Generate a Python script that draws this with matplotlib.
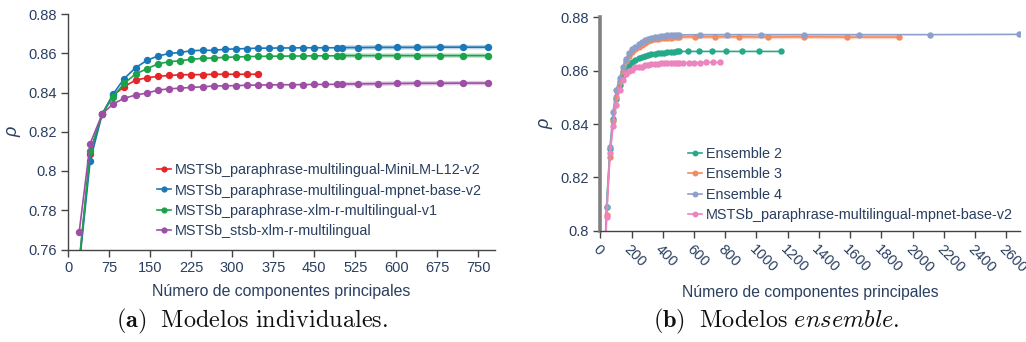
import matplotlib
matplotlib.use("Agg")
import matplotlib.pyplot as plt
import numpy as np

plt.rcParams['font.family'] = ['Liberation Sans', 'DejaVu Sans']
plt.rcParams['mathtext.fontset'] = 'cm'

TEXT = '#2a3f5f'

# componentes principales (modelos individuales, 768 dims)
x_ind = [20, 40, 62, 82, 102, 123, 144, 164, 185, 205, 225, 246, 266, 286, 307, 327,
         348, 368, 388, 409, 429, 450, 470, 491, 501, 530, 566, 602, 639, 680, 722, 768]
x_minilm = x_ind[:17]

rho_minilm = [0.753, 0.8089, 0.8290, 0.8385, 0.8429, 0.8463, 0.8475, 0.8482, 0.8487,
              0.8490, 0.8491, 0.8491, 0.8493, 0.8493, 0.8493, 0.8493, 0.8493]
rho_mpnet = [0.752, 0.8052, 0.8290, 0.8392, 0.8470, 0.8526, 0.8564, 0.8586, 0.8599, 0.8604,
             0.8613, 0.8615, 0.8615, 0.8620, 0.8622, 0.8624, 0.8626, 0.8626, 0.8627, 0.8627,
             0.8628, 0.8628, 0.8628, 0.8628, 0.8629, 0.8629, 0.8630, 0.8630, 0.8630, 0.8631,
             0.8631, 0.8631]
rho_xlmr = [0.754, 0.8101, 0.8292, 0.8378, 0.8446, 0.8494, 0.8521, 0.8546, 0.8557, 0.8562,
            0.8569, 0.8574, 0.8576, 0.8579, 0.8581, 0.8583, 0.8584, 0.8585, 0.8585, 0.8586,
            0.8586, 0.8587, 0.8587, 0.8587, 0.8588, 0.8588, 0.8588, 0.8588, 0.8588, 0.8588,
            0.8588, 0.8588]
rho_stsb = [0.7691, 0.8140, 0.8290, 0.8342, 0.8370, 0.8387, 0.8397, 0.8412, 0.8419, 0.8422,
            0.8426, 0.8429, 0.8433, 0.8434, 0.8435, 0.8437, 0.8438, 0.8439, 0.8439, 0.8440,
            0.8440, 0.8441, 0.8441, 0.8442, 0.8443, 0.8444, 0.8445, 0.8446, 0.8447, 0.8447,
            0.8448, 0.8448]

# ensembles
x_ens2 = x_ind[:25] + [564, 634, 718, 805, 907, 1018, 1157]
x_ens3 = x_ind[:25] + [607, 735, 888, 1076, 1305, 1582, 1915]
x_ens4 = x_ind[:25] + [638, 809, 1027, 1305, 1659, 2111, 2683]

rho_ens2 = [0.775, 0.809, 0.8305, 0.8420, 0.8495, 0.8548, 0.8585, 0.8606, 0.8621, 0.8632,
            0.8640, 0.8647, 0.8652, 0.8656, 0.8659, 0.8662, 0.8664, 0.8666, 0.8667, 0.8668,
            0.8669, 0.8670, 0.8671, 0.8672, 0.8672,
            0.8672, 0.8672, 0.8672, 0.8672, 0.8672, 0.8672, 0.8672]
rho_ens3 = [0.770, 0.806, 0.8277, 0.8410, 0.8500, 0.8560, 0.8600, 0.8635, 0.8655, 0.8670,
            0.8680, 0.8690, 0.8698, 0.8705, 0.8710, 0.8714, 0.8717, 0.8719, 0.8721, 0.8722,
            0.8723, 0.8724, 0.8725, 0.8725, 0.8726,
            0.8727, 0.8727, 0.8727, 0.8726, 0.8727, 0.8726, 0.8726]
rho_ens4 = [0.775, 0.809, 0.8312, 0.8446, 0.8527, 0.8571, 0.8615, 0.8645, 0.8665, 0.8680,
            0.8690, 0.8700, 0.8708, 0.8714, 0.8719, 0.8723, 0.8726, 0.8728, 0.8730, 0.8731,
            0.8732, 0.8733, 0.8734, 0.8734, 0.8734,
            0.8735, 0.8735, 0.8735, 0.8735, 0.8735, 0.8735, 0.8736]

left_series = [
    ("MSTSb_paraphrase-multilingual-MiniLM-L12-v2", x_minilm, rho_minilm, '#e52629'),
    ("MSTSb_paraphrase-multilingual-mpnet-base-v2", x_ind, rho_mpnet, '#1b78b6'),
    ("MSTSb_paraphrase-xlm-r-multilingual-v1", x_ind, rho_xlmr, '#1aa34a'),
    ("MSTSb_stsb-xlm-r-multilingual", x_ind, rho_stsb, '#9c4fa4'),
]
right_series = [
    ("Ensemble 2", x_ens2, rho_ens2, '#25a98b'),
    ("Ensemble 3", x_ens3, rho_ens3, '#f28a5f'),
    ("Ensemble 4", x_ens4, rho_ens4, '#8da0cb'),
    ("MSTSb_paraphrase-multilingual-mpnet-base-v2", x_ind, rho_mpnet, '#ec84bd'),
]

W, H = 1026, 342
fig = plt.figure(figsize=(W / 100, H / 100), dpi=100)


def px_box(x0, x1, ytop, ybot):
    return [x0 / W, 1 - ybot / H, (x1 - x0) / W, (ybot - ytop) / H]


def style_axis(ax):
    for s in ['top', 'right']:
        ax.spines[s].set_visible(False)
    for s in ['left', 'bottom']:
        ax.spines[s].set_color('#444444')
        ax.spines[s].set_linewidth(1.0)
    ax.tick_params(colors='#444444', labelcolor=TEXT, labelsize=10.5, length=5, width=1)
    ax.set_facecolor('white')


# (a) modelos individuales
ax1 = fig.add_axes(px_box(68.3, 494.5, 14, 249.5))
style_axis(ax1)
for name, xs, ys, c in left_series:
    if len(xs) > 24:
        ax1.plot(xs[23:], ys[23:], color=c, lw=3.2, alpha=0.3, solid_capstyle='round')
    ax1.plot(xs, ys, color=c, lw=1.2, marker='o', ms=4.3, label=name)
ax1.set_xlim(0, 780)
ax1.set_ylim(0.76, 0.88)
ax1.set_xticks(np.arange(0, 751, 75))
yt = [0.76, 0.78, 0.80, 0.82, 0.84, 0.86, 0.88]
ax1.set_yticks(yt)
ax1.set_yticklabels(['0.76', '0.78', '0.8', '0.82', '0.84', '0.86', '0.88'])
ax1.set_xlabel("Número de componentes principales", color=TEXT, fontsize=11.4, labelpad=6)
ax1.set_ylabel("ρ", color=TEXT, fontsize=13, style='italic', labelpad=5)
ax1.legend(loc='upper left', bbox_to_anchor=(157 / W, 1 - 163 / H),
           bbox_transform=fig.transFigure, frameon=False, fontsize=10.4,
           labelcolor=TEXT, handlelength=1.0, handletextpad=0.25,
           borderpad=0, borderaxespad=0, labelspacing=0.45, markerscale=0.8)

# (b) modelos ensemble
ax2 = fig.add_axes(px_box(600.3, 1020, 17.3, 230.7))
style_axis(ax2)
ax2.spines['left'].set_color('#808080')
ax2.spines['left'].set_linewidth(2.6)
for name, xs, ys, c in right_series:
    if name == "Ensemble 3":
        ax2.plot(xs[24:], ys[24:], color=c, lw=3.2, alpha=0.35, solid_capstyle='round')
    ax2.plot(xs, ys, color=c, lw=1.2, marker='o', ms=3.6, label=name)
ax2.set_xlim(0, 2688)
ax2.set_ylim(0.80, 0.88)
ax2.set_xticks(np.arange(0, 2601, 200))
ax2.set_xticklabels([str(v) for v in range(0, 2601, 200)], rotation=-45,
                    ha='left', va='top', rotation_mode='anchor')
ax2.set_yticks([0.80, 0.82, 0.84, 0.86, 0.88])
ax2.set_yticklabels(['0.8', '0.82', '0.84', '0.86', '0.88'])
ax2.set_xlabel("Número de componentes principales", color=TEXT, fontsize=11.3, labelpad=7)
ax2.set_ylabel("ρ", color=TEXT, fontsize=13, style='italic', labelpad=5)
ax2.legend(loc='upper left', bbox_to_anchor=(688 / W, 1 - 147 / H),
           bbox_transform=fig.transFigure, frameon=False, fontsize=10.4,
           labelcolor=TEXT, handlelength=1.0, handletextpad=0.25,
           borderpad=0, borderaxespad=0, labelspacing=0.45, markerscale=0.9)

# captions
fig.text(252 / W, 1 - 321 / H, r'$\mathbf{(a)}\ \ \mathrm{Modelos\ individuales.}$',
         ha='center', va='center', fontsize=17.5, color='#111111')
fig.text(776 / W, 1 - 321 / H, r'$\mathbf{(b)}\ \ \mathrm{Modelos}\ \mathit{ensemble}\mathrm{.}$',
         ha='center', va='center', fontsize=17.5, color='#111111')

fig.savefig('out.png', dpi=100, facecolor='white')
